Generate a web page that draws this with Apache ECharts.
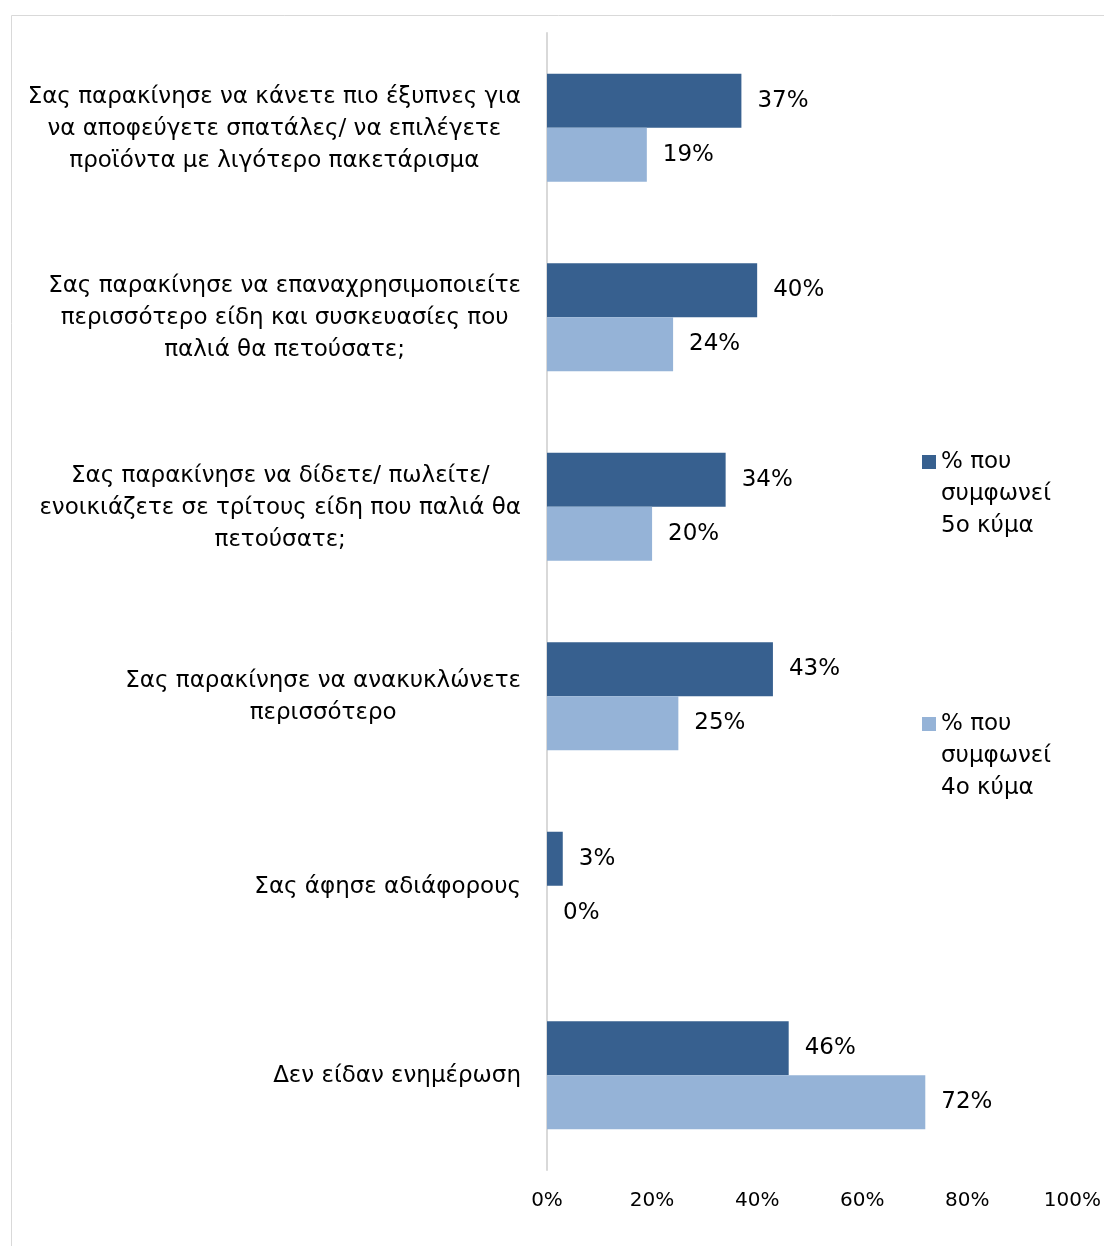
<!DOCTYPE html>
<html>
<head>
<meta charset="utf-8">
<script src="https://cdn.jsdelivr.net/npm/echarts@6/dist/echarts.min.js"></script>
<style>
  html, body { margin: 0; padding: 0; background: #fff; }
  #chart { width: 1104px; height: 1246px; }
</style>
</head>
<body>
<div id="chart"></div>
<script>
const categories = [
  'Σας παρακίνησε να κάνετε πιο έξυπνες για\nνα αποφεύγετε σπατάλες/ να επιλέγετε\nπροϊόντα με λιγότερο πακετάρισμα',
  'Σας παρακίνησε να επαναχρησιμοποιείτε\nπερισσότερο είδη και συσκευασίες που\nπαλιά θα πετούσατε;',
  'Σας παρακίνησε να δίδετε/ πωλείτε/\nενοικιάζετε σε τρίτους είδη που παλιά θα\nπετούσατε;',
  'Σας παρακίνησε να ανακυκλώνετε\nπερισσότερο',
  'Σας άφησε αδιάφορους',
  'Δεν είδαν ενημέρωση'
];
const seriesNames = ['% που συμφωνεί 5ο κύμα', '% που συμφωνεί 4ο κύμα'];
const wave5 = [37, 40, 34, 43, 3, 46];
const wave4 = [19, 24, 20, 25, 0, 72];
const xTicks = [0, 20, 40, 60, 80, 100];

const FONT = '"DejaVu Sans", Tahoma, sans-serif';
const chart = echarts.init(document.getElementById('chart'));

const barLabel = {
  show: true,
  position: 'right',
  distance: 16,
  formatter: p => p.value + '%',
  color: '#000',
  fontSize: 23,
  fontFamily: FONT,
  padding: [4, 0, 0, 0]
};

chart.setOption({
  animation: false,
  graphic: [{
    type: 'rect',
    shape: { x: 11.5, y: 15.5, width: 1200, height: 1300 },
    style: { fill: 'none', stroke: '#d9d9d9', lineWidth: 1 },
    silent: true
  }],
  legend: {
    orient: 'vertical',
    left: 922,
    top: 382,
    padding: 0,
    itemWidth: 14,
    itemHeight: 14,
    itemGap: 102,
    icon: 'rect',
    data: seriesNames,
    // two blank lines first so the marker sits beside the first text line
    formatter: n => '\n\n' + n.replace(' που ', ' που\n').replace('εί ', 'εί\n'),
    textStyle: {
      fontSize: 23,
      lineHeight: 32,
      fontFamily: FONT,
      color: '#000'
    }
  },
  grid: { left: 547, right: 31, top: 33, bottom: 76, containLabel: false },
  xAxis: {
    type: 'value',
    min: xTicks[0],
    max: xTicks[xTicks.length - 1],
    interval: 20,
    axisLine: { show: false },
    axisTick: { show: false },
    splitLine: { show: false },
    axisLabel: {
      formatter: v => v + '%',
      margin: 21,
      fontSize: 20,
      fontFamily: FONT,
      color: '#000'
    }
  },
  yAxis: {
    type: 'category',
    inverse: true,
    data: categories,
    axisLine: { show: true, lineStyle: { color: '#d9d9d9', width: 2 } },
    axisTick: { show: false },
    axisLabel: {
      margin: 26,
      formatter: v => v.split('\n').map(l => '{c|' + l + '}').join('\n'),
      rich: {
        c: { align: 'center', fontSize: 23, lineHeight: 32, fontFamily: FONT, color: '#000', padding: [2, 0, 0, 0] }
      }
    }
  },
  series: [
    {
      name: seriesNames[0],
      type: 'bar',
      data: wave5,
      barGap: '0%',
      barCategoryGap: '43%',
      itemStyle: { color: '#37608f' },
      label: barLabel
    },
    {
      name: seriesNames[1],
      type: 'bar',
      data: wave4,
      itemStyle: { color: '#95b3d7' },
      label: barLabel
    }
  ]
});
</script>
</body>
</html>
